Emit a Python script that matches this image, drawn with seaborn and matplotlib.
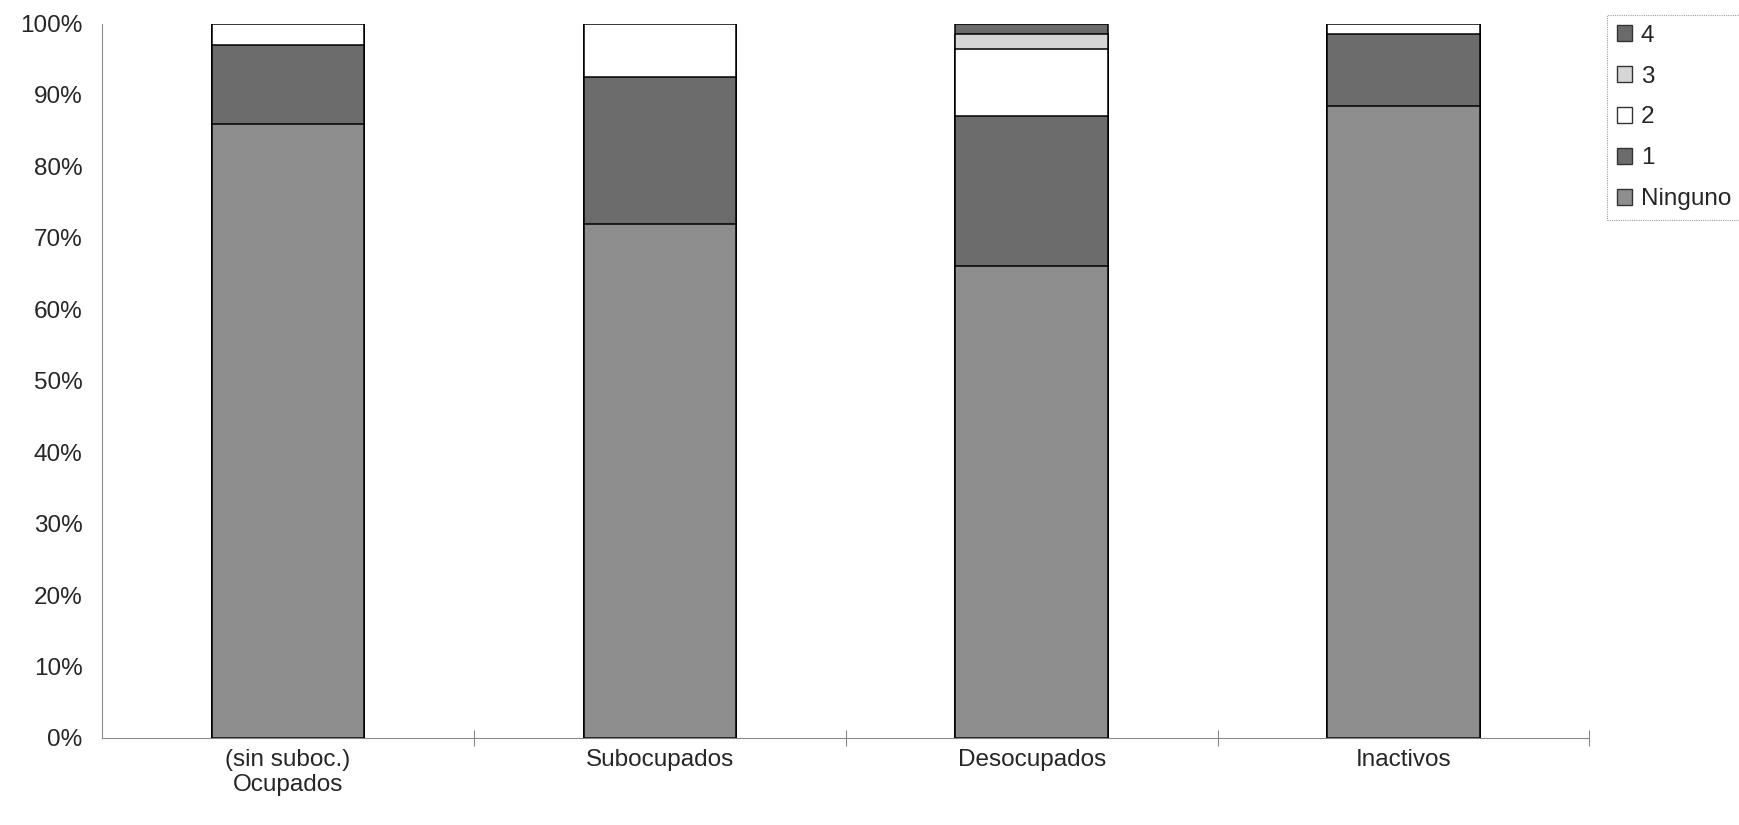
import numpy as np
import pandas as pd
import matplotlib
matplotlib.use("Agg")
import matplotlib.pyplot as plt
from matplotlib.patches import Patch
from matplotlib.ticker import FixedLocator, PercentFormatter
import seaborn as sns

# data (share of each group, %)
categorias = ["(sin suboc.)\nOcupados", "Subocupados", "Desocupados", "Inactivos"]
niveles = ["Ninguno", "1", "2", "3", "4"]
ninguno = [86.0, 72.0, 66.0, 88.5]
uno = [11.0, 20.5, 21.0, 10.0]
dos = [3.0, 7.5, 9.5, 1.5]
tres = [0.0, 0.0, 2.0, 0.0]
cuatro = [0.0, 0.0, 1.5, 0.0]
colores = {"Ninguno": "#8e8e8e", "1": "#6c6c6c", "2": "#ffffff",
           "3": "#d6d6d6", "4": "#6a6a6a"}

df = pd.DataFrame({"Ninguno": ninguno, "1": uno, "2": dos, "3": tres, "4": cuatro},
                  index=categorias)
acum = df.cumsum(axis=1) / 100

sns.set_style("white")
plt.rcParams["font.family"] = ["Liberation Sans", "DejaVu Sans"]
texto = "#262626"
fs = 17.5

fig = plt.figure(figsize=(17.39, 8.25), dpi=100)
ax = fig.add_axes([0.0587, 0.1055, 0.8553, 0.866])

# draw from the tallest cumulative layer down so each segment shows
for nivel in reversed(niveles):
    sns.barplot(x=categorias, y=acum[nivel].values, order=categorias,
                color=colores[nivel], width=0.41, edgecolor="black",
                linewidth=1.1, saturation=1, ax=ax)

ax.set_xlim(-0.5, len(categorias) - 0.5)
ax.set_ylim(0, 1)
ax.yaxis.set_major_locator(FixedLocator(np.arange(0, 1.01, 0.1)))
ax.yaxis.set_major_formatter(PercentFormatter(1.0, decimals=0))
ax.set_xlabel("")
ax.set_ylabel("")

for lado in ["top", "right"]:
    ax.spines[lado].set_visible(False)
for lado in ["left", "bottom"]:
    ax.spines[lado].set_color("#8a8a8a")
    ax.spines[lado].set_linewidth(0.8)
    ax.spines[lado].set_linestyle((0, (2, 1)))

ax.tick_params(axis="y", length=0, pad=14, labelsize=fs, labelcolor=texto)
ax.tick_params(axis="x", which="major", length=0, pad=8, labelsize=fs,
               labelcolor=texto)
ax.xaxis.set_minor_locator(FixedLocator(np.arange(0.5, len(categorias), 1.0)))
ax.tick_params(axis="x", which="minor", bottom=True, length=12, direction="inout",
               color="#8a8a8a", width=0.8)

handles = [Patch(facecolor=colores[n], edgecolor="#333333", linewidth=1.0, label=n)
           for n in reversed(niveles)]
leg = fig.legend(handles=handles, loc="upper left",
                 bbox_to_anchor=(0.924, 0.982), frameon=True, fontsize=fs,
                 handlelength=0.65, handleheight=0.65, handletextpad=0.35,
                 labelspacing=0.78, borderpad=0.4, borderaxespad=0,
                 fancybox=False)
leg.get_frame().set_edgecolor("#8a8a8a")
leg.get_frame().set_linestyle((0, (1, 1)))
leg.get_frame().set_linewidth(0.8)
for t in leg.get_texts():
    t.set_color(texto)

fig.savefig("out.png", dpi=100)
